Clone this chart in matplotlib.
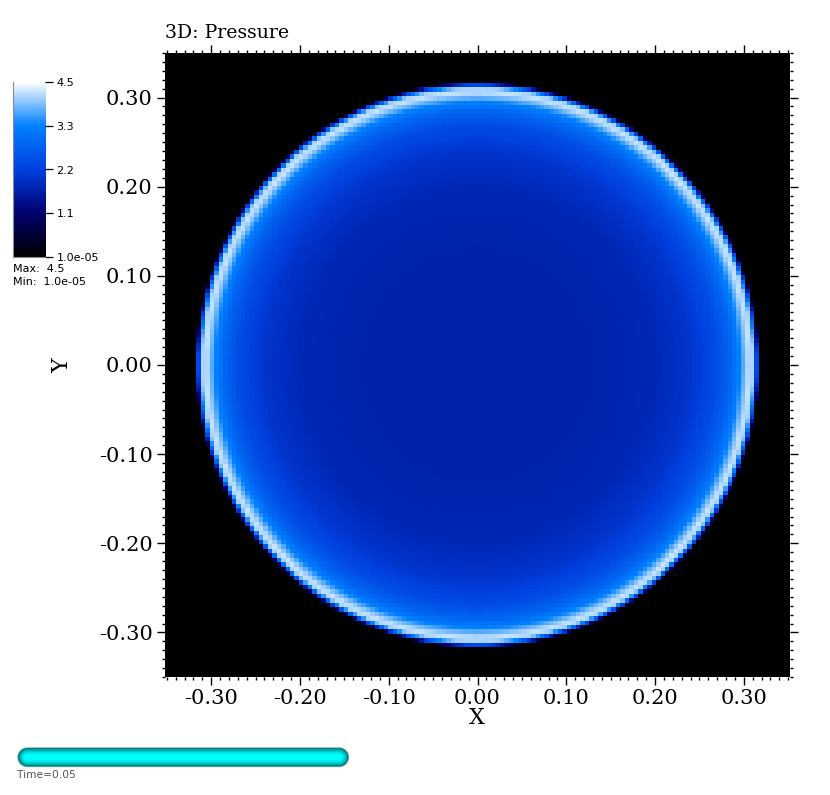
import numpy as np
import matplotlib
matplotlib.use('Agg')
import matplotlib.pyplot as plt
from matplotlib.colors import LinearSegmentedColormap
from matplotlib.ticker import MultipleLocator

# perfil radial de presion
radio = [0.0, 0.05, 0.10, 0.15, 0.20, 0.239, 0.267, 0.285, 0.295, 0.301, 0.306, 0.310, 0.3125, 0.3145, 0.316, 0.318]
presion = [1.72, 1.72, 1.72, 1.75, 1.82, 2.05, 2.4, 2.9, 3.375, 3.9, 4.25, 4.1, 3.3, 2.3, 1.2, 0.00001]

ticks_barra = [4.5, 3.375, 2.25, 1.125, 0.0]
etiquetas_barra = ['4.5', '3.3', '2.2', '1.1', '1.0e-05']
ticks = [-0.30, -0.20, -0.10, 0.00, 0.10, 0.20, 0.30]

# mapa de color: negro, azul, celeste, blanco
colores = [(0.0, '#000000'), (0.25, '#00006e'), (0.5, '#0040e0'), (0.75, '#0080ff'), (1.0, '#ffffff')]
mapa = LinearSegmentedColormap.from_list('presion', colores)

W, H = 830, 795
fig = plt.figure(figsize=(W / 100, H / 100), dpi=100)
fig.patch.set_facecolor('white')

def caja(x0, y0, x1, y1):
    return [x0 / W, 1 - y1 / H, (x1 - x0) / W, (y1 - y0) / H]

SERIF = 'DejaVu Serif'
SANS = 'DejaVu Sans'

ax = fig.add_axes(caja(165, 53, 790, 677))
bordes = np.linspace(-0.352, 0.352, 141)
centros = (bordes[:-1] + bordes[1:]) / 2
xx, yy = np.meshgrid(centros, centros)
campo = np.interp(np.hypot(xx, yy), radio, presion)
ax.pcolormesh(bordes, bordes, campo, cmap=mapa, vmin=0, vmax=4.5, shading='flat')
ax.set_xlim(-0.352, 0.352)
ax.set_ylim(-0.35, 0.35)
ax.set_xticks(ticks)
ax.set_yticks(ticks)
ax.set_xticklabels(['%.2f' % t for t in ticks], family=SERIF, fontsize=15)
ax.set_yticklabels(['%.2f' % t for t in ticks], family=SERIF, fontsize=15)
ax.xaxis.set_minor_locator(MultipleLocator(0.01))
ax.yaxis.set_minor_locator(MultipleLocator(0.01))
ax.tick_params(which='major', length=5.8, width=1.0, top=True, right=True, direction='out', pad=3)
ax.tick_params(which='minor', length=2.4, width=1.0, top=True, right=True, direction='out')
for lado in ax.spines.values():
    lado.set_visible(False)
fig.text(477 / W, 1 - 718 / H, 'X', family=SERIF, fontsize=16, ha='center', va='center')
fig.text(62 / W, 1 - 366 / H, 'Y', family=SERIF, fontsize=16, ha='center', va='center', rotation=90)
fig.text(165 / W, 1 - 33 / H, '3D: Pressure', family=SERIF, fontsize=13.6, ha='left', va='center')

# barra de color
cax = fig.add_axes(caja(13, 82, 45, 257))
cax.imshow(np.linspace(4.5, 0, 256)[:, None], cmap=mapa, vmin=0, vmax=4.5, aspect='auto', extent=[0, 1, 0, 4.5])
cax.set_xticks([])
cax.yaxis.tick_right()
cax.set_yticks(ticks_barra)
cax.set_yticklabels(etiquetas_barra, family=SANS, fontsize=8)
cax.tick_params(length=5.8, width=0.9, pad=2.5)
for nombre, lado in cax.spines.items():
    lado.set_visible(nombre in ('left', 'bottom'))
    lado.set_color('#8a8a8a')
    lado.set_linewidth(0.8)
fig.text(13 / W, 1 - 269 / H, 'Max:  4.5', family=SANS, fontsize=8, va='center')
fig.text(13 / W, 1 - 282 / H, 'Min:  1.0e-05', family=SANS, fontsize=8, va='center')

# barra de tiempo (tubo redondeado)
tax = fig.add_axes([0, 0, 1, 1], facecolor='none')
tax.axis('off')
px, py = np.meshgrid(np.arange(14, 352, 0.5), np.arange(744, 770, 0.5))
radio_tubo = 9.8
dx = px - np.clip(px, 27.0, 338.0)
dy = py - 757.0
d = np.hypot(dx, dy) / radio_tubo
brillo = np.clip((1 - d**2) * 1.05, 0, 1)
rgba = np.zeros(px.shape + (4,))
rgba[..., 1] = 0.35 + 0.65 * brillo
rgba[..., 2] = rgba[..., 1]
rgba[..., 3] = np.clip((1 - d) * radio_tubo * 2, 0, 1)
tax.imshow(rgba, extent=[14, 352, 770, 744], aspect='auto', interpolation='bilinear')
tax.set_xlim(0, W)
tax.set_ylim(H, 0)
tax.text(17, 775, 'Time=0.05', family=SANS, fontsize=7.7, color='#555555', va='center')

fig.savefig('out.png', dpi=100)
